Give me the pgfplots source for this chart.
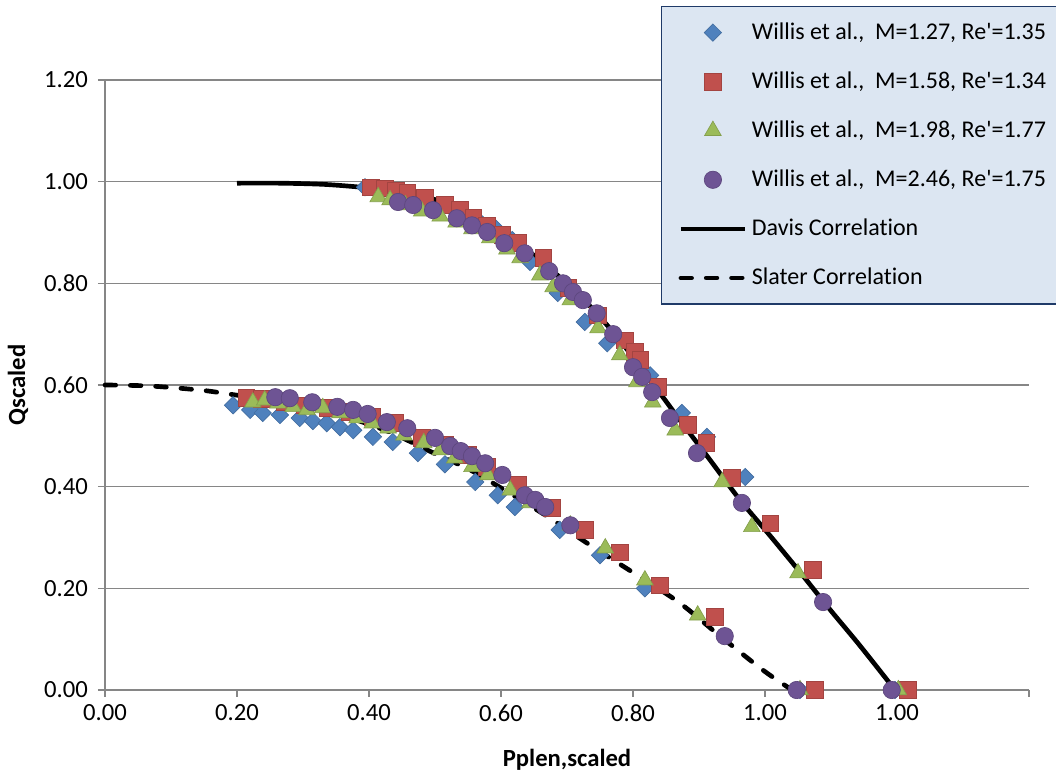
\documentclass[border=0pt]{standalone}
\usepackage{fontspec}
\newfontfamily\calibri{Carlito}[Ligatures=NoCommon]
\usepackage{pgfplots}
\pgfplotsset{compat=1.18}
\definecolor{cblue}{HTML}{4F81BD}
\definecolor{cred}{HTML}{C0504D}
\definecolor{cgreen}{HTML}{9BBB59}
\definecolor{cpurple}{HTML}{6E5494}
\definecolor{axgray}{HTML}{868686}
\definecolor{legfill}{HTML}{DCE6F2}
\definecolor{legdraw}{HTML}{1F3A68}
\begin{document}
\begin{tikzpicture}
\begin{axis}[
  at={(0pt,0pt)}, anchor=south west,
  width=693pt, height=457.5pt, scale only axis,
  xmin=0, xmax=1.4, ymin=0, ymax=1.2,
  clip=false,
  axis x line=bottom, axis y line=left,
  axis line style={-, draw=axgray, line width=0.8pt},
  xtick={0,0.2,0.4,0.6,0.8,1.0,1.2,1.4},
  xticklabels={0.00,0.20,0.40,0.60,0.80,1.00,1.00,{}},
  ytick={0,0.2,0.4,0.6,0.8,1.0,1.2},
  yticklabels={0.00,0.20,0.40,0.60,0.80,1.00,1.20},
  tick align=outside, major tick length=5.25pt,
  tick style={draw=axgray, line width=0.8pt},
  ymajorgrids, grid style={draw=axgray, line width=0.8pt},
  ticklabel style={font=\calibri\fontsize{18.5}{21}\selectfont},
  yticklabel style={xshift=-4pt},
  xticklabel style={yshift=-2pt},
  xlabel={Pplen,scaled}, ylabel={Qscaled},
  xlabel style={font=\calibri\bfseries\fontsize{18.5}{22}\selectfont, at={(axis description cs:0.5,0)}, anchor=center, yshift=-52.5pt},
  ylabel style={font=\calibri\bfseries\fontsize{18.5}{22}\selectfont, at={(axis description cs:-0.0942,0.5)}, anchor=center},
  legend image code/.code={\draw[mark repeat=2,mark phase=2,#1] plot coordinates {(0pt,0pt) (24pt,0pt) (48pt,0pt)};},
  legend cell align=left,
  legend style={at={(axis description cs:0.6017,1.1213)}, anchor=north west,
    fill=legfill, draw=legdraw, line width=0.9pt,
    font=\calibri\fontsize{18}{21}\selectfont,
    inner xsep=12.75pt, inner ysep=10.5pt, row sep=18.8pt, column sep=3.5pt,
    nodes={inner sep=0pt, text height=14pt, text depth=4pt}},
]
% correlations (drawn first)
\addplot[forget plot, black, line width=3.5pt, smooth] coordinates {
(0.200,0.997)(0.265,0.997)(0.326,0.995)(0.371,0.991)(0.417,0.985)(0.462,0.975)
(0.508,0.962)(0.553,0.940)(0.598,0.906)(0.644,0.861)(0.689,0.812)(0.735,0.755)
(0.780,0.688)(0.826,0.610)(0.871,0.531)(0.917,0.452)(0.962,0.374)(1.008,0.303)
(1.053,0.232)(1.098,0.159)(1.144,0.087)(1.197,0.000)};
\addplot[forget plot, black, line width=3.5pt, line cap=round, dash pattern=on 8pt off 11pt, smooth] coordinates {
(0.000,0.600)(0.068,0.598)(0.144,0.590)(0.189,0.582)(0.250,0.570)(0.311,0.555)
(0.371,0.535)(0.432,0.507)(0.495,0.468)(0.553,0.433)(0.598,0.399)(0.667,0.344)
(0.735,0.285)(0.811,0.222)(0.871,0.171)(0.932,0.106)(0.997,0.039)(1.041,0.000)};
% Willis M=1.27
\addplot[only marks, mark=square*, mark size=4.6pt, mark options={rotate=45, fill=cblue, draw=cblue!85!black, line width=0.5pt}] coordinates {
(0.394,0.989)(0.417,0.983)(0.439,0.977)(0.462,0.970)(0.485,0.962)(0.511,0.952)
(0.538,0.940)(0.565,0.924)(0.591,0.909)(0.617,0.885)(0.644,0.842)(0.686,0.781)
(0.727,0.724)(0.761,0.682)(0.826,0.619)(0.874,0.545)(0.912,0.498)(0.970,0.419)
(1.197,0.000)
(0.194,0.560)(0.220,0.551)(0.239,0.545)(0.265,0.541)(0.295,0.535)(0.315,0.529)
(0.336,0.525)(0.356,0.517)(0.376,0.511)(0.406,0.498)(0.436,0.488)(0.474,0.466)
(0.515,0.444)(0.561,0.409)(0.595,0.383)(0.621,0.360)(0.689,0.315)(0.750,0.265)
(0.818,0.200)(1.053,0.000)};
\addlegendentry{Willis et al.,\ \ M=1.27, Re'=1.35}
% Willis M=1.58
\addplot[only marks, mark=square*, mark size=6.3pt, mark options={fill=cred, draw=cred!85!black, line width=0.5pt}] coordinates {
(0.403,0.989)(0.424,0.987)(0.441,0.983)(0.458,0.979)(0.485,0.968)(0.515,0.954)
(0.538,0.944)(0.558,0.930)(0.579,0.914)(0.602,0.895)(0.626,0.879)(0.664,0.850)
(0.702,0.791)(0.747,0.737)(0.788,0.688)(0.803,0.665)(0.811,0.649)(0.838,0.596)
(0.883,0.521)(0.911,0.486)(0.950,0.417)(1.008,0.328)(1.073,0.236)(1.217,0.000)
(0.214,0.574)(0.238,0.572)(0.273,0.566)(0.303,0.560)(0.338,0.555)(0.371,0.547)
(0.405,0.537)(0.439,0.525)(0.480,0.496)(0.515,0.482)(0.550,0.462)(0.579,0.439)
(0.626,0.403)(0.677,0.358)(0.727,0.315)(0.780,0.271)(0.841,0.206)(0.924,0.144)
(1.076,0.000)};
\addlegendentry{Willis et al.,\ \ M=1.58, Re'=1.34}
% Willis M=1.98
\addplot[only marks, mark=triangle*, mark size=7.2pt, mark options={fill=cgreen, draw=cgreen!85!black, line width=0.5pt}] coordinates {
(0.414,0.970)(0.432,0.964)(0.455,0.954)(0.480,0.942)(0.508,0.932)(0.532,0.920)
(0.556,0.907)(0.583,0.889)(0.609,0.867)(0.629,0.850)(0.659,0.816)(0.679,0.793)
(0.705,0.767)(0.747,0.712)(0.780,0.659)(0.806,0.606)(0.830,0.566)(0.864,0.511)
(0.935,0.409)(0.980,0.321)(1.050,0.230)(1.202,0.000)
(0.224,0.566)(0.242,0.570)(0.262,0.564)(0.285,0.557)(0.306,0.551)(0.330,0.555)
(0.356,0.545)(0.382,0.535)(0.405,0.525)(0.429,0.515)(0.453,0.501)(0.483,0.486)
(0.508,0.472)(0.530,0.456)(0.556,0.439)(0.580,0.423)(0.614,0.393)(0.644,0.368)
(0.705,0.324)(0.758,0.279)(0.818,0.216)(0.898,0.147)(1.053,0.000)};
\addlegendentry{Willis et al.,\ \ M=1.98, Re'=1.77}
% Willis M=2.46
\addplot[only marks, mark=*, mark size=6.5pt, mark options={fill=cpurple, draw=cpurple!85!black, line width=0.5pt}] coordinates {
(0.444,0.960)(0.467,0.954)(0.497,0.944)(0.533,0.928)(0.556,0.914)(0.579,0.901)
(0.605,0.879)(0.636,0.859)(0.673,0.824)(0.694,0.800)(0.709,0.783)(0.724,0.767)
(0.745,0.741)(0.770,0.700)(0.800,0.635)(0.814,0.616)(0.829,0.586)(0.856,0.535)
(0.897,0.466)(0.965,0.368)(1.088,0.173)(1.192,0.000)
(0.258,0.576)(0.280,0.574)(0.314,0.566)(0.352,0.557)(0.376,0.551)(0.398,0.543)
(0.427,0.527)(0.458,0.515)(0.500,0.496)(0.523,0.480)(0.539,0.470)(0.556,0.460)
(0.576,0.446)(0.602,0.423)(0.636,0.383)(0.652,0.374)(0.667,0.360)(0.705,0.324)
(0.939,0.106)(1.048,0.000)};
\addlegendentry{Willis et al.,\ \ M=2.46, Re'=1.75}
\addlegendimage{black, line width=3.5pt}
\addlegendentry{Davis Correlation}
\addlegendimage{black, line width=3.5pt, line cap=round, dash pattern=on 8pt off 11pt}
\addlegendentry{Slater Correlation}
\end{axis}
\pgfresetboundingbox
\useasboundingbox (-78.75pt,-62.25pt) rectangle (713.25pt,517.5pt);
\end{tikzpicture}
\end{document}
